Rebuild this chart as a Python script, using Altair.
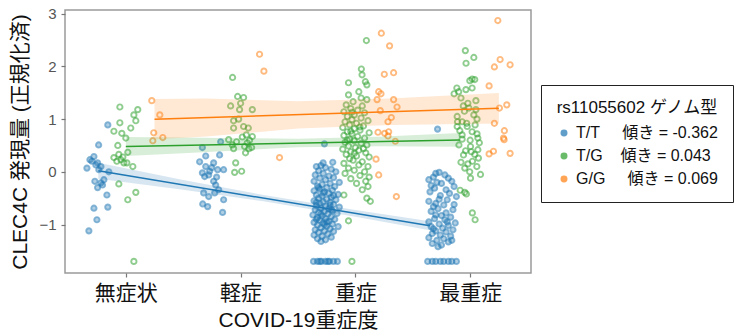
import altair as alt
import pandas as pd

# Genotype labels, regression slopes and colours
genotypes = ["T/T", "T/G", "G/G"]
slopes = [-0.362, 0.043, 0.069]
intercepts = [-0.066, 0.48, 0.98]
line_x_start = [-0.24, 0.0, 0.25]
line_x_end = [2.65, 2.91, 3.25]
colors = ["#1f77b4", "#2ca02c", "#ff7f0e"]
point_fills = ["rgba(31,119,180,0.5)", "rgba(255,255,255,0)", "rgba(255,255,255,0)"]
severity_labels = ["無症状", "軽症", "重症", "最重症"]

# Confidence bands (x position, lower, upper)
tt_band_x = [-0.24, 0.5, 1.2, 2.0, 2.65]
tt_band_lo = [-0.13, -0.34, -0.56, -0.855, -1.11]
tt_band_hi = [0.17, -0.155, -0.44, -0.725, -0.94]
tg_band_x = [0.0, 0.5, 1.5, 2.2, 2.91]
tg_band_lo = [0.30, 0.35, 0.465, 0.485, 0.475]
tg_band_hi = [0.66, 0.65, 0.625, 0.665, 0.735]
gg_band_x = [0.25, 0.7, 1.5, 2.3, 3.25]
gg_band_lo = [0.62, 0.67, 0.82, 0.89, 0.915]
gg_band_hi = [1.38, 1.39, 1.34, 1.39, 1.495]

# T/T samples (jittered position, normalised expression)
tt_x = [-0.157, -0.237, -0.313, -0.278, -0.339, -0.246, -0.217, -0.148, -0.27, -0.217,
        -0.191, -0.246, -0.203, -0.165, -0.278, -0.157, -0.252, -0.322, -0.296, -0.261, -0.235,
        0.667, 0.826, 0.643, 0.696, 0.765, 0.817, 0.667, 0.722, 0.8, 0.852, 0.783, 0.678,
        0.809, 0.722, 0.852, 0.67, 0.713, 0.843, 0.748, 0.696, 0.765, 0.73, 0.791, 0.687, 0.774,
        1.73, 1.719, 1.803,
        1.66, 1.70, 1.74, 1.79, 1.68, 1.83, 1.72, 1.65, 1.77, 1.81, 1.69, 1.74, 1.64, 1.86,
        1.78, 1.71, 1.67, 1.82, 1.75, 1.69, 1.80, 1.64, 1.73, 1.77, 1.85, 1.66, 1.71, 1.79,
        1.68, 1.75, 1.83, 1.64, 1.72, 1.78, 1.69, 1.81, 1.66, 1.74, 1.86, 1.70, 1.77, 1.65,
        1.80, 1.73, 1.68, 1.84, 1.76, 1.63, 1.71, 1.79, 1.67, 1.74, 1.82, 1.69, 1.77, 1.64,
        1.72, 1.80, 1.67, 1.75, 1.85, 1.70, 1.78, 1.65, 1.73, 1.81, 1.68, 1.76, 1.64, 1.71,
        1.79, 1.67, 1.74, 1.70, 1.72, 1.66, 1.78, 1.70, 1.75, 1.68, 1.81, 1.73, 1.66, 1.79,
        1.635, 1.67, 1.704, 1.739, 1.774, 1.809, 1.843, 1.69, 1.76,
        2.716,
        2.73, 2.70, 2.64, 2.78, 2.84, 2.68, 2.75, 2.81, 2.66, 2.71, 2.86, 2.79, 2.69, 2.82,
        2.65, 2.74, 2.88, 2.80, 2.64, 2.70, 2.77, 2.68, 2.85, 2.72, 2.79, 2.66, 2.75, 2.83,
        2.69, 2.78, 2.64, 2.87, 2.73, 2.66, 2.81, 2.76, 2.85, 2.70, 2.79, 2.67, 2.74, 2.83,
        2.64, 2.77, 2.71, 2.81, 2.67, 2.75, 2.72, 2.86, 2.70, 2.80, 2.73, 2.68, 2.84,
        2.63, 2.67, 2.70, 2.74, 2.77, 2.81, 2.84, 2.88]
tt_y = [0.89, 0.51, 0.23, 0.29, 0.07, 0.17, 0.10, 0.0, -0.18, -0.21,
        -0.15, -0.30, -0.25, -0.44, -0.69, -0.67, -0.91, -1.12, 0.20, 0.13, 0.04,
        0.46, 0.57, 0.19, 0.10, 0.17, 0.32, -0.02, -0.06, 0.04, 0.04, -0.25, -0.40,
        -0.34, -0.47, -0.53, -0.61, -0.66, -0.77, 0.08, 0.30, -0.18, 0.01, -0.10, -0.09, -0.40,
        0.53, 0.17, 0.18,
        0.10, 0.12, 0.08, 0.05, 0.02, 0.0, -0.03, -0.06, -0.08, -0.11, -0.12, -0.15, -0.18, -0.2,
        -0.22, -0.24, -0.27, -0.28, -0.3, -0.33, -0.35, -0.36, -0.38, -0.41, -0.43, -0.44, -0.46, -0.48,
        -0.5, -0.52, -0.53, -0.55, -0.57, -0.58, -0.6, -0.62, -0.64, -0.65, -0.67, -0.69, -0.7, -0.72,
        -0.74, -0.75, -0.77, -0.79, -0.8, -0.82, -0.84, -0.85, -0.87, -0.89, -0.9, -0.92, -0.94, -0.96,
        -0.97, -0.99, -1.01, -1.03, -1.04, -1.06, -1.08, -1.1, -1.12, -1.13, -1.15, -1.18, -1.2, -1.22,
        -1.24, -1.27, -1.29, -1.32, -0.4, -0.58, -0.63, -0.8, -0.95, -0.3, -0.45, -1.0, -0.9, -0.72,
        -1.70, -1.70, -1.70, -1.70, -1.70, -1.70, -1.70, -1.70, -1.70,
        0.81,
        -0.01, -0.03, -0.15, -0.06, -0.18, -0.1, -0.22, -0.12, -0.26, -0.2, -0.28, -0.34, -0.31, -0.41,
        -0.38, -0.45, -0.47, -0.53, -0.56, -0.6, -0.63, -0.66, -0.72, -0.7, -0.78, -0.75, -0.83, -0.86,
        -0.89, -0.91, -0.95, -0.97, -0.99, -1.04, -1.02, -1.07, -1.1, -1.12, -1.14, -1.17, -1.2, -1.22,
        -1.25, -1.27, -1.3, -1.33, -1.36, -1.39, -1.42, -0.62, -0.82, -0.95, -0.52, -1.08, -1.3,
        -1.70, -1.70, -1.70, -1.70, -1.70, -1.70, -1.70, -1.70]

# T/G samples
tg_x = [-0.052, 0.104, 0.07, 0.087, -0.052, 0.043, -0.104, -0.035, 0.0, -0.07,
        0.017, -0.061, -0.104, -0.043, -0.017, 0.061, -0.061, 0.087, 0.017, 0.07,
        0.009, -0.078, -0.026,
        0.93, 0.974, 1.026, 0.913, 1.0, 1.102, 0.991, 0.939, 0.983, 1.026, 0.939, 1.067,
        1.102, 1.015, 1.05, 0.896, 0.928, 0.939, 1.058, 1.072, 1.096, 1.043, 0.957, 0.948,
        1.009, 0.965, 1.035, 1.078,
        2.096, 1.94, 2.052, 2.058, 2.087, 2.10, 1.94, 2.03, 2.05, 2.10, 1.98, 1.92, 2.06,
        1.96, 2.02, 1.90, 2.08, 1.99, 1.93, 2.05, 1.97, 2.11, 1.91, 2.01, 1.95, 2.07, 1.89,
        1.99, 2.04, 1.93, 2.12, 1.97, 1.90, 2.02, 2.08, 1.95, 1.99, 1.91, 2.05, 2.10, 1.94,
        2.00, 1.89, 2.03, 1.96, 2.09, 1.92, 2.01, 2.12, 1.95, 1.98, 2.06, 1.90, 2.03, 2.11,
        1.94, 1.99, 2.08, 1.91, 2.04, 2.12, 1.96, 2.09, 2.01, 2.11, 2.06, 1.90, 2.10, 2.13,
        1.94, 1.97, 1.97, 2.04, 1.93, 2.07, 1.99, 1.96,
        2.958, 3.032, 2.964, 3.017, 2.997, 3.04, 2.963, 2.884, 2.86, 3.017, 2.9, 2.92, 3.05,
        2.98, 2.94, 2.989, 2.887, 3.032, 2.93, 3.043, 2.887, 2.974, 3.017, 2.93, 3.067, 2.902,
        3.003, 3.067, 2.942, 3.072, 2.953, 2.996, 3.058, 3.003, 2.913, 2.953, 2.967, 3.019,
        3.043, 2.95, 3.06, 2.91, 3.0, 3.08, 2.96, 3.04, 2.92, 3.02, 3.09, 2.97, 3.05, 2.93,
        3.01, 3.06, 2.98, 2.89]
tg_y = [1.23, 1.18, 1.08, 0.97, 0.93, 0.83, 0.77, 0.73, 0.64, 0.50,
        0.37, 0.33, 0.27, 0.23, 0.17, 0.10, -0.23, -0.39, -0.53, -1.70,
        0.17, 0.20, 0.28,
        1.79, 1.43, 1.41, 1.25, 1.30, 1.18, 1.18, 0.97, 1.0, 0.86, 0.83, 0.83,
        0.67, 0.66, 0.70, 0.61, 0.51, 0.44, 0.55, 0.44, 0.46, 0.36, 0.17, -0.01,
        0.01, 0.57, 0.48, 0.60,
        2.49, 1.69, 1.95, 1.84, 1.71, 1.65, 1.46, 1.52, 1.40, 1.37, 1.33, 1.27, 1.25,
        1.20, 1.17, 1.14, 1.12, 1.08, 1.05, 1.02, 0.99, 0.97, 0.95, 0.92, 0.89, 0.87, 0.84,
        0.82, 0.79, 0.76, 0.74, 0.72, 0.69, 0.67, 0.64, 0.62, 0.59, 0.56, 0.54, 0.51, 0.49,
        0.46, 0.43, 0.41, 0.38, 0.36, 0.33, 0.30, 0.28, 0.25, 0.22, 0.19, 0.16, 0.13, 0.10,
        0.07, 0.03, 0.0, -0.03, -0.07, -0.1, -0.13, -0.18, -0.22, -0.28, -0.34, -0.44, -0.5, -0.56,
        -0.93, -1.70, 1.13, 0.85, 0.60, 0.44, 0.35, 0.77,
        2.30, 2.17, 2.06, 1.76, 1.73, 1.75, 1.56, 1.59, 1.48, 1.59, 1.52, 1.40, 1.35,
        1.30, 1.25, 1.21, 1.05, 1.08, 0.95, 0.89, 0.86, 0.86, 0.76, 0.70, 0.64, 0.51,
        0.48, 0.42, 0.32, 0.26, 0.07, 0.0, 0.10, -0.12, -0.35, -0.39, -0.42, -0.78,
        -0.91, 1.15, 1.0, 0.78, 0.60, 0.55, 0.40, 0.33, 0.18, 0.20, -0.05, 0.92, 1.18, 0.62,
        0.38, 0.72, 0.15, 0.95]

# G/G samples
gg_x = [0.226, 0.296, 0.243, 0.322, 0.235,
        1.165, 1.203, 1.339,
        2.226, 2.298, 2.252, 2.333, 2.203, 2.223, 2.189, 2.333, 2.363, 2.217, 2.313, 2.284,
        2.197, 2.255, 2.29, 2.284, 2.348, 2.18, 2.203, 2.357,
        3.241, 3.261, 3.211, 3.348, 3.165, 3.255, 3.319, 3.211, 3.298, 3.29, 3.203, 3.165,
        3.348, 3.296]
gg_y = [1.35, 1.08, 0.74, 0.65, 0.59,
        2.23, 1.91, 0.27,
        2.63, 2.39, 1.85, 1.88, 1.52, 1.48, 1.37, 1.37, 1.23, 1.16, 1.03, 0.95,
        0.75, 0.73, 0.76, 0.68, 0.58, 0.24, -0.06, -0.47,
        2.87, 2.13, 1.99, 2.03, 1.63, 1.21, 1.27, 0.92, 0.78, 0.64, 0.39, 0.34,
        0.35, 0.61]

NB = "\u00a0"
legend_labels = [
    f"{genotypes[0]}{NB*5}傾き = {slopes[0]:.3f}",
    f"{genotypes[1]}{NB*4}傾き = {slopes[1]:.3f}",
    f"{genotypes[2]}{NB*5}傾き = {slopes[2]:.3f}",
]

point_sets = [(tt_x, tt_y), (tg_x, tg_y), (gg_x, gg_y)]
band_sets = [(tt_band_x, tt_band_lo, tt_band_hi),
             (tg_band_x, tg_band_lo, tg_band_hi),
             (gg_band_x, gg_band_lo, gg_band_hi)]

points = pd.DataFrame([
    {"x": x, "y": y, "g": legend_labels[i]}
    for i, (xs, ys) in enumerate(point_sets) for x, y in zip(xs, ys)
])
bands = pd.DataFrame([
    {"x": x, "lo": lo, "hi": hi, "g": legend_labels[i]}
    for i, (xs, los, his) in enumerate(band_sets) for x, lo, hi in zip(xs, los, his)
])
lines = pd.DataFrame([
    {"x": xv, "y": intercepts[i] + slopes[i] * xv, "g": legend_labels[i]}
    for i in range(3) for xv in (line_x_start[i], line_x_end[i])
])

FONT = "Liberation Sans, Noto Sans CJK JP, sans-serif"

x_scale = alt.Scale(domain=[-0.53, 3.53], nice=False, zero=False)
y_scale = alt.Scale(domain=[-1.92, 3.07], nice=False, zero=False)
color_scale = alt.Scale(domain=legend_labels, range=colors)

# legend symbols: filled for T/T, hollow rings for the others
legend_fill = alt.ExprRef(
    expr=f"indexof(datum.value, '{genotypes[0]}') == 0 ? '{point_fills[0]}' : 'rgba(255,255,255,0)'"
)

point_layer = alt.Chart(points).mark_point(
    size=28, strokeWidth=1.9, strokeOpacity=0.75, filled=False
).encode(
    x=alt.X(
        "x:Q", scale=x_scale,
        axis=alt.Axis(
            values=[0, 1, 2, 3],
            labelExpr="['無症状','軽症','重症','最重症'][datum.value]",
            title="COVID-19重症度",
        ),
    ),
    y=alt.Y("y:Q", scale=y_scale,
            axis=alt.Axis(values=[-1, 0, 1, 2, 3], title="CLEC4C 発現量 (正規化済)")),
    color=alt.Color(
        "g:N", scale=color_scale, sort=legend_labels,
        legend=alt.Legend(
            title="rs11055602 ゲノム型", orient="none", legendX=476, legendY=75,
            symbolFillColor=legend_fill,
        ),
    ),
    fill=alt.Fill("g:N", scale=alt.Scale(domain=legend_labels, range=point_fills), legend=None),
)

band_layer = alt.Chart(bands).mark_area(opacity=0.18).encode(
    x=alt.X("x:Q", scale=x_scale),
    y=alt.Y("lo:Q", scale=y_scale),
    y2="hi:Q",
    color=alt.Color("g:N", scale=color_scale, legend=None),
    detail="g:N",
)

line_layer = alt.Chart(lines).mark_line(strokeWidth=1.5).encode(
    x=alt.X("x:Q", scale=x_scale),
    y=alt.Y("y:Q", scale=y_scale),
    color=alt.Color("g:N", scale=color_scale, legend=None),
    detail="g:N",
)

chart = alt.layer(point_layer, band_layer, line_layer).properties(
    width=466, height=263,
    autosize=alt.AutoSizeParams(type="none"),
    padding={"left": 65, "top": 10, "right": 215, "bottom": 63},
).configure(
    font=FONT,
    background="white",
).configure_view(
    stroke="#9a9a9a", strokeWidth=1.5,
).configure_axis(
    grid=False, domain=False,
    tickColor="#777", tickSize=4, tickWidth=1.2,
    titleFont=FONT, labelFont=FONT,
    titleFontWeight="normal", titleFontSize=21, titleColor="#111",
).configure_axisX(
    labelFontSize=21, labelColor="#111", labelPadding=5, titlePadding=6,
).configure_axisY(
    labelFontSize=15, labelColor="#555", labelPadding=5, titlePadding=8,
).configure_legend(
    strokeColor="#222", fillColor="white", padding=15,
    titleFontSize=17, titleFontWeight="normal", titleColor="#111", titleAnchor="middle",
    labelFontSize=16, labelColor="#111", symbolSize=30, symbolStrokeWidth=1.5,
    rowPadding=7, titlePadding=8, labelFont=FONT, titleFont=FONT,
)

chart.save("out.html", embed_options={"renderer": "svg", "actions": False})
